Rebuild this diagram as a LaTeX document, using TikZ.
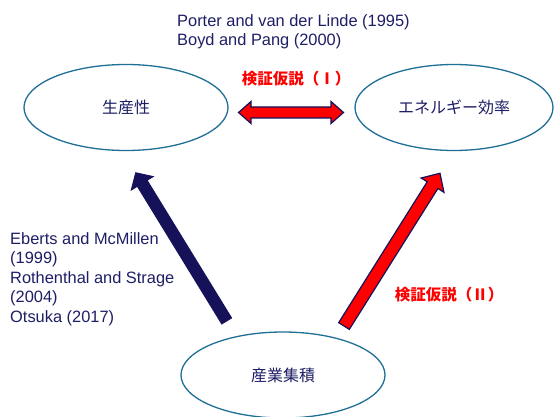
\documentclass[tikz,border=0pt]{standalone}
\usepackage{fontspec}
\setmainfont{Liberation Sans}
\newfontfamily\cjk{Noto Sans CJK JP}
\usetikzlibrary{calc,shapes.geometric}
\definecolor{navy}{HTML}{16125A}
\definecolor{txtblue}{HTML}{1E1E66}
\definecolor{ellblue}{HTML}{1F6F96}
\definecolor{hypred}{HTML}{FF0000}
% style, A, B, shaft half width, head half width, head length
\newcommand\fatarrow[6]{%
  \coordinate (fa-c) at ($(#3)!#6!(#2)$);
  \draw[#1] ($(#2)!#4!90:(#3)$) -- ($(fa-c)!#4!-90:(#2)$) -- ($(fa-c)!#5!-90:(#2)$)
    -- (#3) -- ($(fa-c)!#5!90:(#2)$) -- ($(fa-c)!#4!90:(#2)$) -- ($(#2)!#4!-90:(#3)$) -- cycle;
}
\begin{document}
\begin{tikzpicture}[x=1pt,y=-1pt,
  ell/.style={draw=ellblue, line width=1.3pt, ellipse, inner sep=0pt, text=txtblue,
    font=\cjk\fontsize{16}{18}\selectfont},
  reftext/.style={anchor=west, align=left, inner sep=0pt, text=txtblue,
    font=\fontsize{16.4}{19.5}\selectfont},
  hyp/.style={text=hypred, inner sep=0pt, font=\cjk\bfseries\fontsize{15.5}{18}\selectfont},
  navyarrow/.style={fill=navy, draw=navy, line width=0.8pt, line join=miter},
  redarrow/.style={fill=hypred, draw=navy, line width=1.2pt, line join=miter}]
\useasboundingbox (0,0) rectangle (554,417);
\fill[white] (0,0) rectangle (554,417);

\node[ell, minimum width=204pt, minimum height=86pt] (prod) at (126,107.5) {生産性};
\node[ell, minimum width=198pt, minimum height=86pt] (energy) at (454,107.5) {エネルギー効率};
\node[ell, minimum width=204pt, minimum height=86pt] (agglo) at (283,375) {産業集積};

\node[reftext] (refs1) at (177,32) {Porter and van der Linde (1995)\\Boyd and Pang (2000)};
\node[reftext] (refs2) at (10,279) {Eberts and McMillen\\(1999)\\Rothenthal and Strage\\(2004)\\Otsuka (2017)};

\node[hyp] (h1) at (296,79) {検証仮説（Ⅰ）};
\node[hyp] (h2) at (449,295) {検証仮説（Ⅱ）};

% double arrow between prod and energy
\coordinate (dl) at (238.5,112.5);
\coordinate (dr) at (343.5,112.5);
\coordinate (d1) at ($(dl)!12.5pt!(dr)$);
\coordinate (d2) at ($(dr)!12.5pt!(dl)$);
\draw[redarrow] (dl) -- ($(d1)!11pt!90:(dr)$) -- ($(d1)!5.5pt!90:(dr)$) -- ($(d2)!5.5pt!-90:(dl)$)
  -- ($(d2)!11pt!-90:(dl)$) -- (dr) -- ($(d2)!11pt!90:(dl)$) -- ($(d2)!5.5pt!90:(dl)$)
  -- ($(d1)!5.5pt!-90:(dr)$) -- ($(d1)!11pt!-90:(dr)$) -- cycle;

% agglomeration -> productivity
\coordinate (la) at (226.7,321);
\coordinate (lb) at (135.7,172.7);
\fatarrow{navyarrow}{la}{lb}{5.8pt}{13pt}{12.5pt}

% agglomeration -> energy efficiency
\coordinate (ra) at (344,326);
\coordinate (rb) at (440,173.3);
\fatarrow{redarrow}{ra}{rb}{6.3pt}{13.5pt}{14pt}
\end{tikzpicture}
\end{document}
